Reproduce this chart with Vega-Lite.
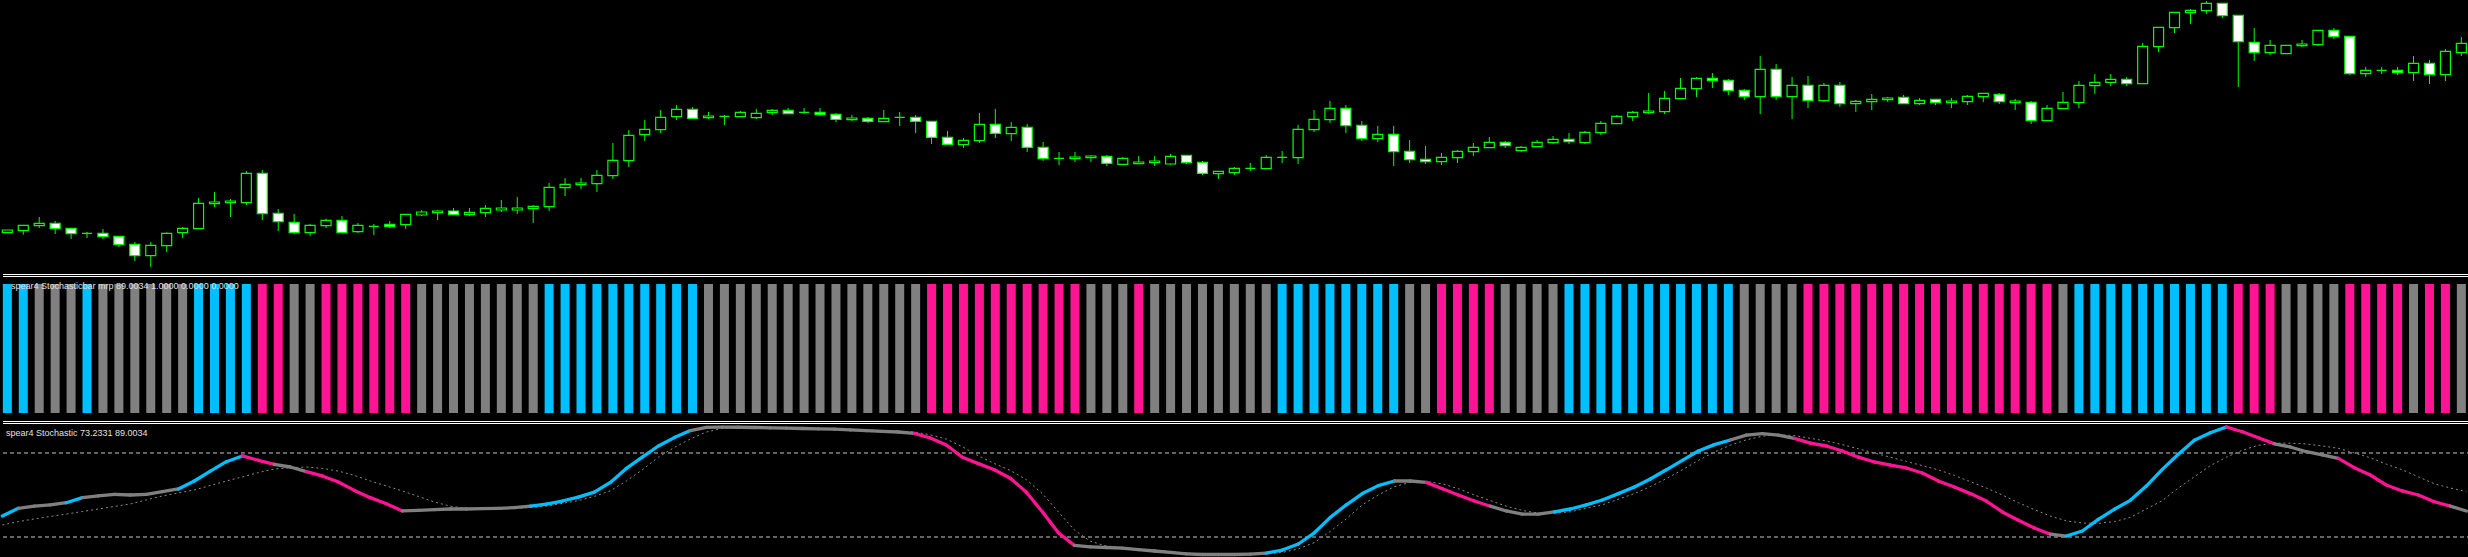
{
"$schema": "https://vega.github.io/schema/vega-lite/v6.json",
"background": "#000000",
"padding": 0,
"spacing": 0,
"config": {"view": {"stroke": null}, "concat": {"spacing": 0}},
"datasets": {
"bars": [
{"i":0,"o":1.4302,"h":1.4310,"l":1.4302,"c":1.4310,"b":1,"k":35,"d":28.6,"hc":"up","tc":"up"},
{"i":1,"o":1.4308,"h":1.4324,"l":1.4296,"c":1.4324,"b":1,"k":40.5,"d":31,"hc":"up","tc":"up"},
{"i":2,"o":1.4323,"h":1.4349,"l":1.4316,"c":1.4330,"b":1,"k":42.1,"d":32.9,"hc":"fl","tc":"fl"},
{"i":3,"o":1.4330,"h":1.4337,"l":1.4298,"c":1.4314,"b":1,"k":42.9,"d":34.7,"hc":"fl","tc":"fl"},
{"i":4,"o":1.4315,"h":1.4315,"l":1.4283,"c":1.4299,"b":1,"k":44.5,"d":36.4,"hc":"fl","tc":"fl"},
{"i":5,"o":1.4300,"h":1.4304,"l":1.4286,"c":1.4300,"b":1,"k":48.1,"d":38.2,"hc":"up","tc":"up"},
{"i":6,"o":1.4300,"h":1.4313,"l":1.4283,"c":1.4290,"b":1,"k":49.3,"d":40,"hc":"fl","tc":"fl"},
{"i":7,"o":1.4291,"h":1.4291,"l":1.4259,"c":1.4266,"b":1,"k":50.5,"d":41.8,"hc":"fl","tc":"fl"},
{"i":8,"o":1.4267,"h":1.4274,"l":1.4217,"c":1.4233,"b":1,"k":50,"d":43.6,"hc":"fl","tc":"fl"},
{"i":9,"o":1.4233,"h":1.4274,"l":1.4199,"c":1.4264,"b":1,"k":50.5,"d":46.5,"hc":"fl","tc":"fl"},
{"i":10,"o":1.4263,"h":1.4303,"l":1.4244,"c":1.4300,"b":1,"k":52.4,"d":49.3,"hc":"fl","tc":"fl"},
{"i":11,"o":1.4302,"h":1.4319,"l":1.4286,"c":1.4315,"b":1,"k":54.3,"d":51.5,"hc":"fl","tc":"fl"},
{"i":12,"o":1.4314,"h":1.4406,"l":1.4314,"c":1.4390,"b":1,"k":60,"d":53.6,"hc":"up","tc":"up"},
{"i":13,"o":1.4389,"h":1.4424,"l":1.4379,"c":1.4394,"b":1,"k":67.1,"d":56.8,"hc":"up","tc":"up"},
{"i":14,"o":1.4392,"h":1.4403,"l":1.4349,"c":1.4397,"b":1,"k":73.8,"d":60,"hc":"up","tc":"up"},
{"i":15,"o":1.4392,"h":1.4487,"l":1.4385,"c":1.4480,"b":1,"k":77.9,"d":62.9,"hc":"up","tc":"up"},
{"i":16,"o":1.4480,"h":1.4490,"l":1.4340,"c":1.4359,"b":1,"k":74.8,"d":66,"hc":"dn","tc":"dn"},
{"i":17,"o":1.4360,"h":1.4373,"l":1.4307,"c":1.4335,"b":1,"k":71.9,"d":68.6,"hc":"dn","tc":"dn"},
{"i":18,"o":1.4333,"h":1.4358,"l":1.4298,"c":1.4302,"b":1,"k":70,"d":69.5,"hc":"fl","tc":"fl"},
{"i":19,"o":1.4302,"h":1.4328,"l":1.4292,"c":1.4324,"b":1,"k":66.7,"d":70,"hc":"fl","tc":"fl"},
{"i":20,"o":1.4323,"h":1.4344,"l":1.4316,"c":1.4339,"b":1,"k":63.6,"d":69,"hc":"dn","tc":"dn"},
{"i":21,"o":1.4339,"h":1.4352,"l":1.4302,"c":1.4302,"b":1,"k":59.3,"d":67.1,"hc":"dn","tc":"dn"},
{"i":22,"o":1.4305,"h":1.4331,"l":1.4301,"c":1.4324,"b":1,"k":53.3,"d":64,"hc":"dn","tc":"dn"},
{"i":23,"o":1.4321,"h":1.4328,"l":1.4295,"c":1.4321,"b":1,"k":48.1,"d":60,"hc":"dn","tc":"dn"},
{"i":24,"o":1.4327,"h":1.4337,"l":1.4316,"c":1.4320,"b":1,"k":43.8,"d":56.5,"hc":"dn","tc":"dn"},
{"i":25,"o":1.4326,"h":1.4357,"l":1.4313,"c":1.4357,"b":1,"k":38.6,"d":52.9,"hc":"dn","tc":"dn"},
{"i":26,"o":1.4355,"h":1.4370,"l":1.4352,"c":1.4364,"b":1,"k":39,"d":49,"hc":"fl","tc":"fl"},
{"i":27,"o":1.4362,"h":1.4369,"l":1.4340,"c":1.4367,"b":1,"k":39.5,"d":45,"hc":"fl","tc":"fl"},
{"i":28,"o":1.4367,"h":1.4376,"l":1.4356,"c":1.4356,"b":1,"k":40,"d":42,"hc":"fl","tc":"fl"},
{"i":29,"o":1.4356,"h":1.4376,"l":1.4352,"c":1.4363,"b":1,"k":40,"d":40.5,"hc":"fl","tc":"fl"},
{"i":30,"o":1.4362,"h":1.4385,"l":1.4349,"c":1.4375,"b":1,"k":40.3,"d":40,"hc":"fl","tc":"fl"},
{"i":31,"o":1.4370,"h":1.4400,"l":1.4364,"c":1.4376,"b":1,"k":40.5,"d":40,"hc":"fl","tc":"fl"},
{"i":32,"o":1.4370,"h":1.4409,"l":1.4358,"c":1.4376,"b":1,"k":41,"d":40.5,"hc":"fl","tc":"fl"},
{"i":33,"o":1.4374,"h":1.4385,"l":1.4331,"c":1.4381,"b":1,"k":42,"d":41,"hc":"fl","tc":"fl"},
{"i":34,"o":1.4380,"h":1.4451,"l":1.4367,"c":1.4438,"b":1,"k":43.5,"d":42,"hc":"up","tc":"up"},
{"i":35,"o":1.4437,"h":1.4466,"l":1.4412,"c":1.4447,"b":1,"k":45.7,"d":44,"hc":"up","tc":"up"},
{"i":36,"o":1.4446,"h":1.4466,"l":1.4433,"c":1.4451,"b":1,"k":48.5,"d":46,"hc":"up","tc":"up"},
{"i":37,"o":1.4449,"h":1.4490,"l":1.4424,"c":1.4474,"b":1,"k":52,"d":49,"hc":"up","tc":"up"},
{"i":38,"o":1.4473,"h":1.4571,"l":1.4463,"c":1.4519,"b":1,"k":59,"d":53,"hc":"up","tc":"up"},
{"i":39,"o":1.4518,"h":1.4610,"l":1.4499,"c":1.4594,"b":1,"k":69,"d":60,"hc":"up","tc":"up"},
{"i":40,"o":1.4596,"h":1.4640,"l":1.4577,"c":1.4612,"b":1,"k":77,"d":68,"hc":"up","tc":"up"},
{"i":41,"o":1.4611,"h":1.4670,"l":1.4601,"c":1.4648,"b":1,"k":85,"d":77,"hc":"up","tc":"up"},
{"i":42,"o":1.4650,"h":1.4685,"l":1.4640,"c":1.4672,"b":1,"k":91,"d":84,"hc":"up","tc":"up"},
{"i":43,"o":1.4672,"h":1.4679,"l":1.4645,"c":1.4645,"b":1,"k":96,"d":90,"hc":"up","tc":"up"},
{"i":44,"o":1.4647,"h":1.4664,"l":1.4643,"c":1.4652,"b":1,"k":98.3,"d":95,"hc":"fl","tc":"fl"},
{"i":45,"o":1.4651,"h":1.4655,"l":1.4625,"c":1.4651,"b":1,"k":98.5,"d":97.5,"hc":"fl","tc":"fl"},
{"i":46,"o":1.4650,"h":1.4667,"l":1.4650,"c":1.4663,"b":1,"k":98.4,"d":98.3,"hc":"fl","tc":"fl"},
{"i":47,"o":1.4647,"h":1.4673,"l":1.4643,"c":1.4660,"b":1,"k":98.2,"d":98.3,"hc":"fl","tc":"fl"},
{"i":48,"o":1.4662,"h":1.4673,"l":1.4655,"c":1.4669,"b":1,"k":98,"d":98.2,"hc":"fl","tc":"fl"},
{"i":49,"o":1.4669,"h":1.4676,"l":1.4659,"c":1.4659,"b":1,"k":97.8,"d":98,"hc":"fl","tc":"fl"},
{"i":50,"o":1.4663,"h":1.4676,"l":1.4658,"c":1.4663,"b":1,"k":97.5,"d":97.7,"hc":"fl","tc":"fl"},
{"i":51,"o":1.4663,"h":1.4676,"l":1.4652,"c":1.4656,"b":1,"k":97.3,"d":97.5,"hc":"fl","tc":"fl"},
{"i":52,"o":1.4657,"h":1.4661,"l":1.4634,"c":1.4642,"b":1,"k":97,"d":97.2,"hc":"fl","tc":"fl"},
{"i":53,"o":1.4641,"h":1.4655,"l":1.4637,"c":1.4646,"b":1,"k":96.5,"d":96.8,"hc":"fl","tc":"fl"},
{"i":54,"o":1.4645,"h":1.4649,"l":1.4631,"c":1.4636,"b":1,"k":96,"d":96.5,"hc":"fl","tc":"fl"},
{"i":55,"o":1.4635,"h":1.4670,"l":1.4635,"c":1.4645,"b":1,"k":95.5,"d":96,"hc":"fl","tc":"fl"},
{"i":56,"o":1.4648,"h":1.4664,"l":1.4622,"c":1.4648,"b":1,"k":95,"d":95.5,"hc":"fl","tc":"fl"},
{"i":57,"o":1.4648,"h":1.4655,"l":1.4601,"c":1.4636,"b":1,"k":94,"d":95,"hc":"fl","tc":"fl"},
{"i":58,"o":1.4636,"h":1.4636,"l":1.4568,"c":1.4588,"b":1,"k":90.7,"d":93,"hc":"dn","tc":"dn"},
{"i":59,"o":1.4588,"h":1.4607,"l":1.4567,"c":1.4567,"b":1,"k":85.7,"d":90,"hc":"dn","tc":"dn"},
{"i":60,"o":1.4566,"h":1.4586,"l":1.4556,"c":1.4579,"b":1,"k":77,"d":84.5,"hc":"dn","tc":"dn"},
{"i":61,"o":1.4578,"h":1.4661,"l":1.4571,"c":1.4627,"b":1,"k":72.4,"d":78,"hc":"dn","tc":"dn"},
{"i":62,"o":1.4627,"h":1.4673,"l":1.4586,"c":1.4600,"b":1,"k":68,"d":72.5,"hc":"dn","tc":"dn"},
{"i":63,"o":1.4599,"h":1.4634,"l":1.4577,"c":1.4618,"b":1,"k":62,"d":67.5,"hc":"dn","tc":"dn"},
{"i":64,"o":1.4618,"h":1.4628,"l":1.4544,"c":1.4558,"b":1,"k":52,"d":61,"hc":"dn","tc":"dn"},
{"i":65,"o":1.4558,"h":1.4574,"l":1.4517,"c":1.4524,"b":1,"k":38,"d":51,"hc":"dn","tc":"dn"},
{"i":66,"o":1.4525,"h":1.4544,"l":1.4505,"c":1.4525,"b":1,"k":23,"d":38,"hc":"dn","tc":"dn"},
{"i":67,"o":1.4524,"h":1.4544,"l":1.4514,"c":1.4529,"b":1,"k":14,"d":25,"hc":"dn","tc":"dn"},
{"i":68,"o":1.4527,"h":1.4535,"l":1.4514,"c":1.4532,"b":1,"k":13,"d":17,"hc":"fl","tc":"fl"},
{"i":69,"o":1.4531,"h":1.4535,"l":1.4502,"c":1.4510,"b":1,"k":12.5,"d":13.5,"hc":"fl","tc":"fl"},
{"i":70,"o":1.4507,"h":1.4529,"l":1.4505,"c":1.4525,"b":1,"k":12,"d":12.5,"hc":"fl","tc":"fl"},
{"i":71,"o":1.4509,"h":1.4532,"l":1.4509,"c":1.4514,"b":1,"k":11,"d":11.5,"hc":"dn","tc":"fl"},
{"i":72,"o":1.4512,"h":1.4532,"l":1.4502,"c":1.4517,"b":1,"k":10,"d":10.5,"hc":"fl","tc":"fl"},
{"i":73,"o":1.4508,"h":1.4538,"l":1.4505,"c":1.4531,"b":1,"k":9,"d":9.5,"hc":"fl","tc":"fl"},
{"i":74,"o":1.4534,"h":1.4534,"l":1.4508,"c":1.4512,"b":1,"k":8,"d":8.5,"hc":"fl","tc":"fl"},
{"i":75,"o":1.4513,"h":1.4517,"l":1.4475,"c":1.4480,"b":1,"k":7.5,"d":8,"hc":"fl","tc":"fl"},
{"i":76,"o":1.4479,"h":1.4486,"l":1.4463,"c":1.4486,"b":1,"k":7.5,"d":7.7,"hc":"fl","tc":"fl"},
{"i":77,"o":1.4482,"h":1.4499,"l":1.4475,"c":1.4495,"b":1,"k":7.5,"d":7.5,"hc":"fl","tc":"fl"},
{"i":78,"o":1.4495,"h":1.4511,"l":1.4487,"c":1.4495,"b":1,"k":7.8,"d":7.6,"hc":"fl","tc":"fl"},
{"i":79,"o":1.4494,"h":1.4535,"l":1.4494,"c":1.4528,"b":1,"k":8.5,"d":8,"hc":"fl","tc":"fl"},
{"i":80,"o":1.4528,"h":1.4547,"l":1.4511,"c":1.4528,"b":1,"k":10.7,"d":9,"hc":"up","tc":"up"},
{"i":81,"o":1.4527,"h":1.4625,"l":1.4508,"c":1.4612,"b":1,"k":15,"d":11.5,"hc":"up","tc":"up"},
{"i":82,"o":1.4611,"h":1.4670,"l":1.4604,"c":1.4642,"b":1,"k":23,"d":16,"hc":"up","tc":"up"},
{"i":83,"o":1.4641,"h":1.4697,"l":1.4631,"c":1.4675,"b":1,"k":34,"d":24,"hc":"up","tc":"up"},
{"i":84,"o":1.4675,"h":1.4685,"l":1.4601,"c":1.4623,"b":1,"k":43,"d":33,"hc":"up","tc":"up"},
{"i":85,"o":1.4624,"h":1.4637,"l":1.4577,"c":1.4584,"b":1,"k":51,"d":43,"hc":"up","tc":"up"},
{"i":86,"o":1.4584,"h":1.4622,"l":1.4574,"c":1.4597,"b":1,"k":56.7,"d":50,"hc":"up","tc":"up"},
{"i":87,"o":1.4597,"h":1.4622,"l":1.4502,"c":1.4545,"b":1,"k":60,"d":56,"hc":"up","tc":"up"},
{"i":88,"o":1.4546,"h":1.4580,"l":1.4511,"c":1.4521,"b":1,"k":60,"d":59,"hc":"fl","tc":"fl"},
{"i":89,"o":1.4522,"h":1.4562,"l":1.4508,"c":1.4515,"b":1,"k":59,"d":59.7,"hc":"fl","tc":"fl"},
{"i":90,"o":1.4515,"h":1.4541,"l":1.4505,"c":1.4528,"b":1,"k":54.5,"d":58,"hc":"dn","tc":"dn"},
{"i":91,"o":1.4527,"h":1.4550,"l":1.4511,"c":1.4546,"b":1,"k":50,"d":54.5,"hc":"dn","tc":"dn"},
{"i":92,"o":1.4545,"h":1.4571,"l":1.4532,"c":1.4558,"b":1,"k":45.7,"d":50,"hc":"dn","tc":"dn"},
{"i":93,"o":1.4557,"h":1.4589,"l":1.4557,"c":1.4573,"b":1,"k":42,"d":46,"hc":"dn","tc":"dn"},
{"i":94,"o":1.4573,"h":1.4577,"l":1.4556,"c":1.4563,"b":1,"k":38.6,"d":42,"hc":"fl","tc":"fl"},
{"i":95,"o":1.4548,"h":1.4562,"l":1.4544,"c":1.4558,"b":1,"k":36.4,"d":39,"hc":"fl","tc":"fl"},
{"i":96,"o":1.4560,"h":1.4580,"l":1.4560,"c":1.4573,"b":1,"k":36.4,"d":37,"hc":"fl","tc":"fl"},
{"i":97,"o":1.4572,"h":1.4592,"l":1.4568,"c":1.4582,"b":1,"k":38,"d":37,"hc":"fl","tc":"fl"},
{"i":98,"o":1.4582,"h":1.4601,"l":1.4568,"c":1.4575,"b":1,"k":40,"d":38,"hc":"up","tc":"up"},
{"i":99,"o":1.4572,"h":1.4607,"l":1.4568,"c":1.4603,"b":1,"k":43,"d":40.5,"hc":"up","tc":"up"},
{"i":100,"o":1.4602,"h":1.4637,"l":1.4595,"c":1.4630,"b":1,"k":46.4,"d":43,"hc":"up","tc":"up"},
{"i":101,"o":1.4629,"h":1.4655,"l":1.4629,"c":1.4651,"b":1,"k":51,"d":47,"hc":"up","tc":"up"},
{"i":102,"o":1.4650,"h":1.4667,"l":1.4637,"c":1.4663,"b":1,"k":55.7,"d":51,"hc":"up","tc":"up"},
{"i":103,"o":1.4662,"h":1.4721,"l":1.4658,"c":1.4667,"b":1,"k":61.4,"d":56,"hc":"up","tc":"up"},
{"i":104,"o":1.4665,"h":1.4727,"l":1.4658,"c":1.4705,"b":1,"k":68,"d":61.7,"hc":"up","tc":"up"},
{"i":105,"o":1.4704,"h":1.4766,"l":1.4704,"c":1.4735,"b":1,"k":74.7,"d":68,"hc":"up","tc":"up"},
{"i":106,"o":1.4734,"h":1.4769,"l":1.4709,"c":1.4765,"b":1,"k":81.4,"d":74.7,"hc":"up","tc":"up"},
{"i":107,"o":1.4765,"h":1.4781,"l":1.4736,"c":1.4758,"b":1,"k":86,"d":80.7,"hc":"up","tc":"up"},
{"i":108,"o":1.4759,"h":1.4763,"l":1.4715,"c":1.4728,"b":1,"k":89.3,"d":85.6,"hc":"up","tc":"up"},
{"i":109,"o":1.4729,"h":1.4733,"l":1.4700,"c":1.4710,"b":1,"k":92.8,"d":89.4,"hc":"fl","tc":"fl"},
{"i":110,"o":1.4710,"h":1.4832,"l":1.4658,"c":1.4792,"b":1,"k":93.8,"d":92,"hc":"fl","tc":"fl"},
{"i":111,"o":1.4792,"h":1.4808,"l":1.4700,"c":1.4710,"b":1,"k":92.8,"d":93,"hc":"fl","tc":"fl"},
{"i":112,"o":1.4710,"h":1.4769,"l":1.4643,"c":1.4744,"b":1,"k":90.4,"d":92.5,"hc":"fl","tc":"fl"},
{"i":113,"o":1.4744,"h":1.4772,"l":1.4676,"c":1.4698,"b":1,"k":87,"d":90.5,"hc":"dn","tc":"dn"},
{"i":114,"o":1.4698,"h":1.4751,"l":1.4694,"c":1.4744,"b":1,"k":85,"d":88.5,"hc":"dn","tc":"dn"},
{"i":115,"o":1.4744,"h":1.4754,"l":1.4679,"c":1.4689,"b":1,"k":81.4,"d":86,"hc":"dn","tc":"dn"},
{"i":116,"o":1.4689,"h":1.4700,"l":1.4664,"c":1.4696,"b":1,"k":77,"d":83,"hc":"dn","tc":"dn"},
{"i":117,"o":1.4695,"h":1.4718,"l":1.4670,"c":1.4702,"b":1,"k":73.6,"d":80,"hc":"dn","tc":"dn"},
{"i":118,"o":1.4701,"h":1.4709,"l":1.4694,"c":1.4706,"b":1,"k":71.4,"d":77,"hc":"dn","tc":"dn"},
{"i":119,"o":1.4708,"h":1.4715,"l":1.4689,"c":1.4689,"b":1,"k":69.3,"d":74,"hc":"dn","tc":"dn"},
{"i":120,"o":1.4689,"h":1.4706,"l":1.4685,"c":1.4699,"b":1,"k":65.7,"d":71,"hc":"dn","tc":"dn"},
{"i":121,"o":1.4702,"h":1.4702,"l":1.4685,"c":1.4692,"b":1,"k":60,"d":68,"hc":"dn","tc":"dn"},
{"i":122,"o":1.4692,"h":1.4706,"l":1.4676,"c":1.4697,"b":1,"k":55.7,"d":64,"hc":"dn","tc":"dn"},
{"i":123,"o":1.4695,"h":1.4715,"l":1.4685,"c":1.4711,"b":1,"k":51,"d":59.5,"hc":"dn","tc":"dn"},
{"i":124,"o":1.4710,"h":1.4720,"l":1.4694,"c":1.4720,"b":1,"k":45.7,"d":55,"hc":"dn","tc":"dn"},
{"i":125,"o":1.4717,"h":1.4721,"l":1.4688,"c":1.4695,"b":1,"k":37.9,"d":50,"hc":"dn","tc":"dn"},
{"i":126,"o":1.4692,"h":1.4703,"l":1.4670,"c":1.4697,"b":1,"k":32,"d":44.5,"hc":"dn","tc":"dn"},
{"i":127,"o":1.4693,"h":1.4697,"l":1.4628,"c":1.4638,"b":1,"k":26.4,"d":39.5,"hc":"dn","tc":"dn"},
{"i":128,"o":1.4638,"h":1.4685,"l":1.4638,"c":1.4675,"b":1,"k":22,"d":35,"hc":"dn","tc":"dn"},
{"i":129,"o":1.4674,"h":1.4724,"l":1.4674,"c":1.4693,"b":1,"k":20.7,"d":31.5,"hc":"fl","tc":"fl"},
{"i":130,"o":1.4692,"h":1.4757,"l":1.4676,"c":1.4744,"b":1,"k":24.3,"d":30,"hc":"up","tc":"up"},
{"i":131,"o":1.4743,"h":1.4778,"l":1.4718,"c":1.4753,"b":1,"k":32.6,"d":29.7,"hc":"up","tc":"up"},
{"i":132,"o":1.4753,"h":1.4778,"l":1.4742,"c":1.4762,"b":1,"k":39.8,"d":31,"hc":"up","tc":"up"},
{"i":133,"o":1.4762,"h":1.4769,"l":1.4742,"c":1.4749,"b":1,"k":46.2,"d":34,"hc":"up","tc":"up"},
{"i":134,"o":1.4749,"h":1.4871,"l":1.4749,"c":1.4861,"b":1,"k":56.4,"d":40,"hc":"up","tc":"up"},
{"i":135,"o":1.4860,"h":1.4918,"l":1.4844,"c":1.4918,"b":1,"k":68.3,"d":46,"hc":"up","tc":"up"},
{"i":136,"o":1.4917,"h":1.4963,"l":1.4901,"c":1.4963,"b":1,"k":79.1,"d":55,"hc":"up","tc":"up"},
{"i":137,"o":1.4962,"h":1.4973,"l":1.4928,"c":1.4969,"b":1,"k":89.1,"d":63,"hc":"up","tc":"up"},
{"i":138,"o":1.4968,"h":1.4997,"l":1.4958,"c":1.4990,"b":1,"k":94.5,"d":71,"hc":"up","tc":"up"},
{"i":139,"o":1.4990,"h":1.4990,"l":1.4946,"c":1.4953,"b":1,"k":98.6,"d":77,"hc":"up","tc":"up"},
{"i":140,"o":1.4954,"h":1.4954,"l":1.4739,"c":1.4875,"b":1,"k":95.2,"d":82,"hc":"dn","tc":"dn"},
{"i":141,"o":1.4873,"h":1.4916,"l":1.4817,"c":1.4842,"b":1,"k":90.9,"d":85.5,"hc":"dn","tc":"dn"},
{"i":142,"o":1.4842,"h":1.4880,"l":1.4835,"c":1.4864,"b":1,"k":86.6,"d":87,"hc":"dn","tc":"dn"},
{"i":143,"o":1.4839,"h":1.4864,"l":1.4839,"c":1.4864,"b":1,"k":84.3,"d":87,"hc":"fl","tc":"fl"},
{"i":144,"o":1.4863,"h":1.4880,"l":1.4859,"c":1.4868,"b":1,"k":80.9,"d":86.5,"hc":"fl","tc":"fl"},
{"i":145,"o":1.4866,"h":1.4909,"l":1.4862,"c":1.4909,"b":1,"k":78.6,"d":85,"hc":"fl","tc":"fl"},
{"i":146,"o":1.4909,"h":1.4916,"l":1.4883,"c":1.4890,"b":1,"k":76.2,"d":83.4,"hc":"fl","tc":"fl"},
{"i":147,"o":1.4891,"h":1.4891,"l":1.4775,"c":1.4779,"b":1,"k":69.5,"d":80,"hc":"dn","tc":"dn"},
{"i":148,"o":1.4779,"h":1.4799,"l":1.4769,"c":1.4789,"b":1,"k":64.3,"d":76.6,"hc":"dn","tc":"dn"},
{"i":149,"o":1.4789,"h":1.4799,"l":1.4778,"c":1.4789,"b":1,"k":57.1,"d":72,"hc":"dn","tc":"dn"},
{"i":150,"o":1.4789,"h":1.4799,"l":1.4775,"c":1.4782,"b":1,"k":52.9,"d":68,"hc":"dn","tc":"dn"},
{"i":151,"o":1.4782,"h":1.4832,"l":1.4757,"c":1.4810,"b":1,"k":50,"d":63,"hc":"fl","tc":"dn"},
{"i":152,"o":1.4810,"h":1.4820,"l":1.4748,"c":1.4776,"b":1,"k":45.2,"d":58,"hc":"dn","tc":"dn"},
{"i":153,"o":1.4776,"h":1.4853,"l":1.4757,"c":1.4846,"b":1,"k":42.1,"d":55,"hc":"dn","tc":"dn"},
{"i":154,"o":1.4842,"h":1.4889,"l":1.4832,"c":1.4870,"b":1,"k":38.6,"d":52.4,"hc":"fl","tc":"fl"}
]
},
"vconcat": [
{
"width": 2468, "height": 274,
"data": {"name": "bars"},
"encoding": {"x": {"field": "i", "type": "quantitative", "scale": {"domain": [0.0417, 154.2917], "nice": false, "zero": false}, "axis": null}},
"layer": [
{"mark": {"type": "rule", "color": "#00ff00", "strokeWidth": 1},
 "encoding": {"y": {"field": "l", "type": "quantitative", "scale": {"domain": [1.4178, 1.5], "nice": false, "zero": false}, "axis": null}, "y2": {"field": "h"}}},
{"mark": {"type": "bar", "width": 10, "stroke": "#00ff00", "strokeWidth": 1.2},
 "encoding": {"y": {"field": "o", "type": "quantitative"}, "y2": {"field": "c"},
  "fill": {"condition": {"test": "datum.c < datum.o", "value": "#ffffff"}, "value": "#000000"}}}
]
},
{
"width": 2468, "height": 146,
"encoding": {"x": {"field": "i", "type": "quantitative", "scale": {"domain": [0.0417, 154.2917], "nice": false, "zero": false}, "axis": null}},
"layer": [
{"data": {"name": "bars"}, "mark": {"type": "bar", "width": 9},
 "encoding": {"y": {"field": "b", "type": "quantitative", "scale": {"domain": [-0.0543, 1.0775], "nice": false, "zero": false}, "axis": null},
  "color": {"field": "hc", "type": "nominal", "scale": {"domain": ["up", "dn", "fl"], "range": ["#00bfff", "#ff1493", "#808080"]}, "legend": null}}},
{"data": {"values": [{"s": 1.0736}, {"s": 1.0581}]}, "mark": {"type": "rule", "color": "#ffffff", "strokeWidth": 1},
 "encoding": {"x": null, "y": {"field": "s", "type": "quantitative"}}},
{"data": {"values": [{"tx": 0.23, "ty": 0.959}]}, "mark": {"type": "text", "text": "spear4 Stochasticbar mrp 89.0034 1.0000 0.0000 0.0000", "align": "left", "baseline": "alphabetic", "font": "Liberation Sans", "fontSize": 9, "color": "#e0e0e0"},
 "encoding": {"x": {"field": "tx", "type": "quantitative"}, "y": {"field": "ty", "type": "quantitative"}}}
]
},
{
"width": 2468, "height": 137,
"encoding": {"x": {"field": "i", "type": "quantitative", "scale": {"domain": [0.0417, 154.2917], "nice": false, "zero": false}, "axis": null}},
"layer": [
{"data": {"values": [{"lv": 80}, {"lv": 20}]}, "mark": {"type": "rule", "color": "#c8c8c8", "strokeWidth": 1, "strokeDash": [4, 3]},
 "encoding": {"x": null, "y": {"field": "lv", "type": "quantitative", "scale": {"domain": [5, 102.857], "nice": false, "zero": false}, "axis": null}}},
{"data": {"name": "bars"}, "mark": {"type": "line", "color": "#8c8c8c", "strokeWidth": 1, "strokeDash": [2, 3]},
 "encoding": {"y": {"field": "d", "type": "quantitative"}}},
{"data": {"name": "bars"},
 "transform": [{"window": [{"op": "lag", "field": "k", "as": "kp"}, {"op": "lag", "field": "i", "as": "ip"}], "sort": [{"field": "i", "order": "ascending"}]}, {"filter": "datum.ip != null"}],
 "mark": {"type": "rule", "strokeWidth": 3.3, "strokeCap": "round"},
 "encoding": {"x": {"field": "ip", "type": "quantitative"}, "x2": {"field": "i"}, "y": {"field": "kp", "type": "quantitative"}, "y2": {"field": "k"},
  "color": {"field": "tc", "type": "nominal", "scale": {"domain": ["up", "dn", "fl"], "range": ["#00bfff", "#ff1493", "#808080"]}, "legend": null}}},
{"data": {"values": [{"s": 102.5}, {"s": 101.07}]}, "mark": {"type": "rule", "color": "#ffffff", "strokeWidth": 1},
 "encoding": {"x": null, "y": {"field": "s", "type": "quantitative"}}},
{"data": {"values": [{"tx": 0.23, "ty": 92.14}]}, "mark": {"type": "text", "text": "spear4 Stochastic 73.2331 89.0034", "align": "left", "baseline": "alphabetic", "font": "Liberation Sans", "fontSize": 9, "color": "#e0e0e0"},
 "encoding": {"x": {"field": "tx", "type": "quantitative"}, "y": {"field": "ty", "type": "quantitative"}}}
]
}
]
}
